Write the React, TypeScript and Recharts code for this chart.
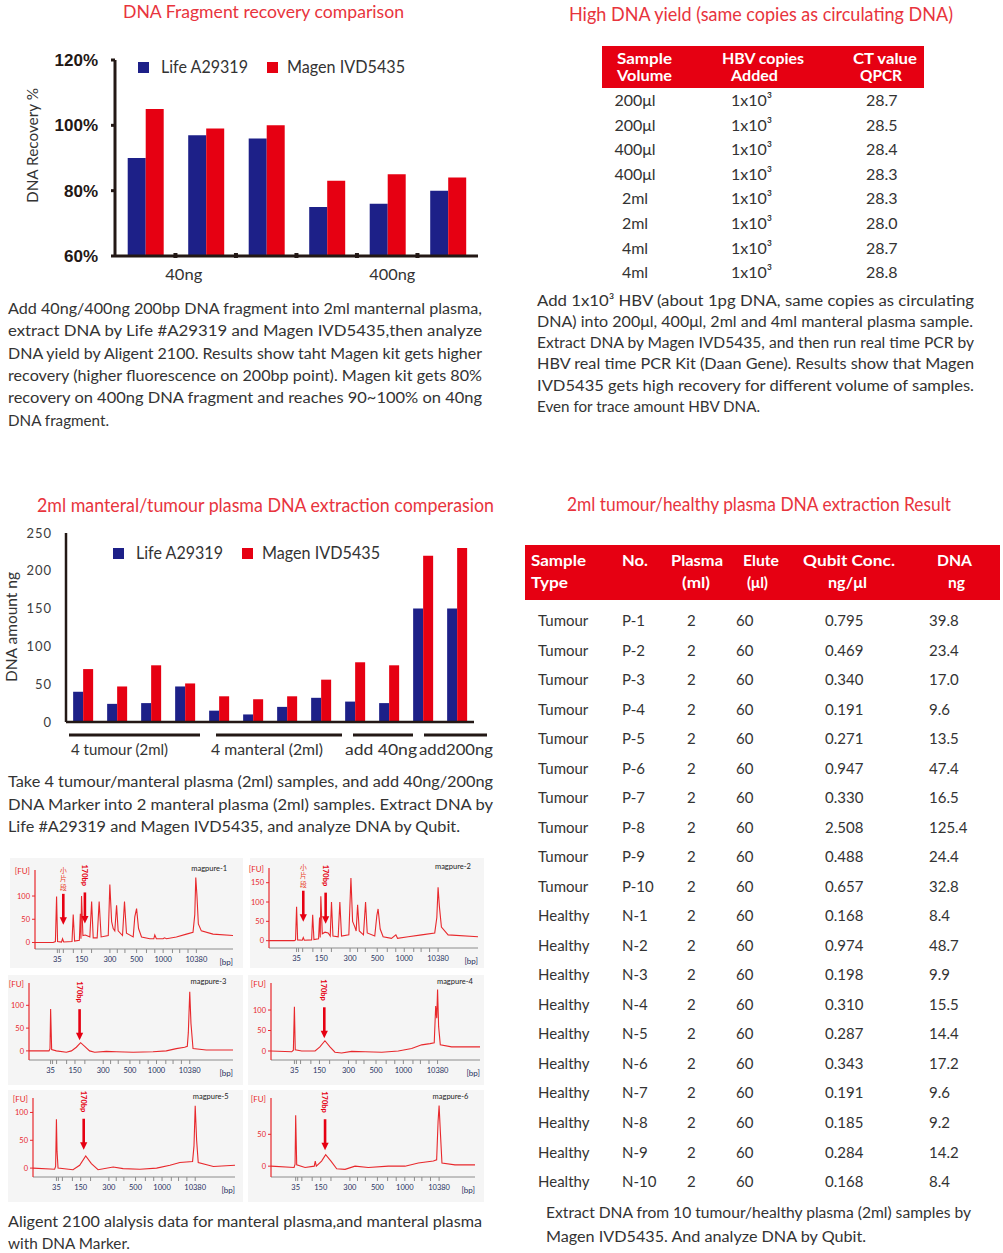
import React from "react";
import { BarChart, Bar, XAxis, YAxis, Legend, LineChart, Line, ReferenceDot } from "recharts";

const FONT = "Lato, 'Noto Sans', sans-serif";
const CJK = "'Noto Sans CJK SC', sans-serif";
const BLUE = "#1d2088";
const RED = "#e60012";
const TITLE = "#e8343d";
const INK = "#333333";
const AXIS = "#231815";
const TRACE = "#e8282c";

// DNA Fragment recovery comparison (%)
const recoveryGroups = ["40ng a", "40ng b", "40ng c", "400ng a", "400ng b", "400ng c"];
const recoveryLife = [90, 97, 96, 75, 76, 80];
const recoveryMagen = [105, 99, 100, 83, 85, 84];
const recoveryTicks = [60, 80, 100, 120];

// 2ml manteral/tumour plasma DNA (ng)
const plasmaSamples = ["T1", "T2", "T3", "T4", "M1", "M2", "M3", "M4", "40ng a", "40ng b", "200ng a", "200ng b"];
const plasmaLife = [40, 24, 25, 47, 15, 10, 20, 32, 27, 25, 150, 150];
const plasmaMagen = [70, 47, 75, 51, 34, 30, 34, 56, 79, 75, 220, 230];
const plasmaTicks = [0, 50, 100, 150, 200, 250];
const plasmaGroupLabels = ["4 tumour (2ml)", "4 manteral (2ml)", "add 40ng", "add200ng"];

const seriesNames = ["Life A29319", "Magen IVD5435"];

// HBV table
const hbvVolumes = ["200μl", "200μl", "400μl", "400μl", "2ml", "2ml", "4ml", "4ml"];
const hbvCopies = "1x10³";
const hbvCt = ["28.7", "28.5", "28.4", "28.3", "28.3", "28.0", "28.7", "28.8"];

// Qubit table
const qubitNo = ["P-1", "P-2", "P-3", "P-4", "P-5", "P-6", "P-7", "P-8", "P-9", "P-10",
  "N-1", "N-2", "N-3", "N-4", "N-5", "N-6", "N-7", "N-8", "N-9", "N-10"];
const qubitConc = ["0.795", "0.469", "0.340", "0.191", "0.271", "0.947", "0.330", "2.508", "0.488", "0.657",
  "0.168", "0.974", "0.198", "0.310", "0.287", "0.343", "0.191", "0.185", "0.284", "0.168"];
const qubitDna = ["39.8", "23.4", "17.0", "9.6", "13.5", "47.4", "16.5", "125.4", "24.4", "32.8",
  "8.4", "48.7", "9.9", "15.5", "14.4", "17.2", "9.6", "9.2", "14.2", "8.4"];

// paragraphs
const fragmentNote = [
  "Add 40ng/400ng 200bp DNA fragment into 2ml manternal plasma,",
  "extract DNA by Life #A29319 and Magen IVD5435,then analyze",
  "DNA yield by Aligent 2100. Results show taht Magen kit gets higher",
  "recovery (higher fluorescence on 200bp point). Magen kit gets 80%",
  "recovery on 400ng DNA fragment and reaches 90~100% on 40ng",
  "DNA fragment.",
];
const hbvNote = [
  "Add 1x10³ HBV (about 1pg DNA, same copies as circulating",
  "DNA) into 200μl, 400μl, 2ml and 4ml manteral plasma sample.",
  "Extract DNA by Magen IVD5435, and then run real time PCR by",
  "HBV real time PCR Kit (Daan Gene). Results show that Magen",
  "IVD5435 gets high recovery for different volume of samples.",
  "Even for trace amount HBV DNA.",
];
const plasmaNote = [
  "Take 4 tumour/manteral plasma (2ml) samples, and add 40ng/200ng",
  "DNA Marker into 2 manteral plasma (2ml) samples. Extract DNA by",
  "Life #A29319 and Magen IVD5435, and analyze DNA by Qubit.",
];
const traceNote = ["Aligent 2100 alalysis data for manteral plasma,and manteral plasma", "with DNA Marker."];
const qubitNote = ["Extract DNA from 10 tumour/healthy plasma (2ml) samples by", "Magen IVD5435. And analyze DNA by Qubit."];

// Bioanalyzer traces: [relative migration, FU]
type Pt = [number, number];
const trace1: Pt[] = [
  [0, 0], [9.2, 0], [10.3, 2], [10.9, 99], [11.4, 2], [13.4, 1], [13.9, 8], [14.5, 1], [18.7, 2], [19.3, 60],
  [20.0, 3], [22.4, 5], [22.9, 62], [23.2, 8], [23.5, 100], [24.2, 15], [25.4, 16], [26.6, 14], [27.7, 12],
  [28.6, 88], [29.4, 10], [31.4, 10], [32.4, 88], [33.4, 12], [37.0, 15], [37.8, 125], [38.7, 45], [39.5, 30],
  [40.3, 25], [41.2, 80], [42.0, 25], [44.2, 15], [45.2, 88], [46.2, 20], [49.6, 12], [50.4, 55], [51.3, 73],
  [52.3, 30], [53.8, 12], [58.0, 8], [60.0, 8], [60.5, 16], [61.3, 8], [64.7, 8], [65.4, 10], [66.4, 8],
  [71.4, 12], [76.5, 18], [79.8, 22], [80.7, 60], [81.2, 140], [81.8, 100], [82.5, 40], [84.0, 25], [89.9, 18], [100, 15],
];
const trace2: Pt[] = [
  [0, 0], [12.1, 0], [12.7, 2], [13.2, 88], [13.7, 2], [15.9, 1], [16.4, 8], [16.9, 1], [20.4, 2], [20.9, 67],
  [21.5, 3], [23.7, 5], [24.2, 60], [24.5, 8], [24.8, 115], [25.5, 18], [26.8, 22], [28.3, 20], [29.3, 12],
  [29.9, 100], [30.6, 12], [33.1, 10], [33.9, 100], [34.7, 12], [38.2, 15], [39.2, 162], [40.0, 50], [41.1, 35],
  [41.7, 25], [42.4, 93], [43.2, 25], [45.2, 15], [46.2, 100], [47.0, 20], [50.6, 12], [51.6, 65], [52.2, 82],
  [53.2, 30], [54.6, 10], [58.6, 6], [60.7, 15], [61.5, 6], [66.6, 10], [73.0, 15], [79.3, 20], [80.3, 60],
  [80.9, 138], [81.5, 90], [82.5, 35], [85.7, 15], [100, 10],
];
const trace3: Pt[] = [
  [0, 0], [9.8, 0], [10.3, 5], [10.6, 92], [11.1, 3], [13.4, 0], [18.3, -3], [20.8, 0], [23.2, 8], [25.3, 18],
  [27.3, 10], [29.7, 0], [32.2, -3], [37.9, -1], [42.8, -2], [51.0, -3], [60.8, -2], [67.3, 0], [72.2, 5],
  [76.3, 8], [77.6, 10], [78.1, 40], [78.8, 130], [79.4, 60], [80.4, 5], [86.9, 2], [100, 2],
];
const trace4: Pt[] = [
  [0, 0], [9.9, -2], [10.7, 2], [11.2, 108], [11.6, 3], [14.7, 0], [21.1, 0], [23.4, 10], [25.8, 25], [28.2, 10],
  [30.6, -3], [33.8, -5], [38.6, -1], [45.0, -2], [53.0, -3], [60.9, 0], [67.3, 6], [72.1, 15], [76.1, 18],
  [78.1, 20], [78.8, 110], [79.3, 80], [79.7, 150], [80.2, 60], [81.0, 15], [86.4, 10], [100, 10],
];
const trace5: Pt[] = [
  [0, 0], [10.7, -2], [11.2, 3], [11.6, 88], [11.9, 30], [12.4, 0], [19.8, -3], [23.1, 5], [26.1, 22], [28.9, 8],
  [32.2, -3], [39.7, 2], [44.6, -1], [52.9, -2], [61.2, 0], [67.8, 5], [72.7, 10], [79.0, 12], [79.7, 40],
  [80.3, 112], [81.0, 50], [81.8, 10], [89.3, 3], [100, 5],
];
const trace6: Pt[] = [
  [0, 0], [11.3, -2], [11.8, 3], [12.1, 80], [12.6, 2], [16.7, -2], [21.2, 0], [21.7, 8], [22.2, 0], [24.8, 8],
  [26.8, 18], [29.4, 8], [32.2, -4], [36.3, -5], [41.2, 0], [47.7, -2], [57.5, 0], [65.7, 0], [72.2, 5],
  [79.6, 8], [81.2, 10], [81.9, 70], [82.4, 95], [83.0, 55], [83.8, 5], [90.2, 2], [100, 2],
];

// ladder tick layout along the migration axis (fraction between 35bp and 10380bp marks)
const ladderFrac = [0, 0.014, 0.043, 0.115, 0.175, 0.246, 0.378, 0.431, 0.486, 0.57, 0.641, 0.701, 0.761, 0.828, 0.88, 0.94, 1];
const ladderLabels = ["35", "", "", "", "150", "", "300", "", "", "500", "", "", "1000", "", "", "", "10380"];

interface Panel {
  name: string;
  trace: Pt[];
  box: [number, number, number, number];
  plot: [number, number, number, number];
  y: [number, number];
  yTicks: number[];
  u35: number;
  u10380: number;
  arrows: { t: number; fu: number; kind: "small" | "bp" }[];
}

const panels: Panel[] = [
  { name: "magpure-1", trace: trace1, box: [10, 858, 233, 110], plot: [35, 870, 233, 949], y: [-14, 156], yTicks: [0, 50, 100], u35: 11.3, u10380: 81.5,
    arrows: [{ t: 14.3, fu: 38, kind: "small" }, { t: 25.2, fu: 41, kind: "bp" }] },
  { name: "magpure-2", trace: trace2, box: [250, 858, 234, 110], plot: [269, 868, 478, 948], y: [-19, 188], yTicks: [0, 50, 100, 150], u35: 13.2, u10380: 80.9,
    arrows: [{ t: 16.4, fu: 49, kind: "small" }, { t: 27.1, fu: 44, kind: "bp" }] },
  { name: "magpure-3", trace: trace3, box: [8, 975, 235, 110], plot: [29, 983, 233, 1060], y: [-20, 149], yTicks: [0, 50, 100], u35: 10.6, u10380: 78.8,
    arrows: [{ t: 24.8, fu: 23.5, kind: "bp" }] },
  { name: "magpure-4", trace: trace4, box: [248, 975, 236, 110], plot: [271, 983, 480, 1060], y: [-22, 166], yTicks: [0, 50, 100], u35: 11.2, u10380: 79.7,
    arrows: [{ t: 25.5, fu: 31, kind: "bp" }] },
  { name: "magpure-5", trace: trace5, box: [8, 1090, 235, 112], plot: [33, 1098, 235, 1177], y: [-16, 126], yTicks: [0, 50, 100], u35: 11.6, u10380: 80.3,
    arrows: [{ t: 25.1, fu: 33, kind: "bp" }] },
  { name: "magpure-6", trace: trace6, box: [248, 1090, 236, 112], plot: [271, 1098, 475, 1177], y: [-17, 107], yTicks: [0, 50], u35: 12.1, u10380: 82.4,
    arrows: [{ t: 26.5, fu: 25, kind: "bp" }] },
];

function Txt({ x, y, w, size = 15.5, fill = INK, weight = 400, anchor = "start", family = FONT, children }: any) {
  const fit = w ? { textLength: w, lengthAdjust: "spacingAndGlyphs" } : {};
  return (
    <text x={x} y={y} fontSize={size} fill={fill} fontWeight={weight} textAnchor={anchor} fontFamily={family} {...fit}>
      {children}
    </text>
  );
}

function SwatchLegend() {
  return (
    <svg width={320} height={30} style={{ overflow: "visible", display: "block" }}>
      <rect x={0} y={8} width={11} height={11} fill={BLUE} />
      <Txt x={23} y={19} w={87} size={16.5}>{seriesNames[0]}</Txt>
      <rect x={129} y={8} width={11} height={11} fill={RED} />
      <Txt x={149} y={19} w={118} size={16.5}>{seriesNames[1]}</Txt>
    </svg>
  );
}

function RecoveryTick(props: any) {
  const { x, y, index } = props;
  return (
    <g>
      {index < 5 && <rect x={x + 28.2} y={y - 3} width={4} height={5} fill={AXIS} />}
      {index === 1 && <Txt x={x - 22} y={y + 24} w={37} anchor="middle">40ng</Txt>}
      {index === 4 && <Txt x={x + 5} y={y + 24} w={46} anchor="middle">400ng</Txt>}
    </g>
  );
}

function RecoveryChart() {
  const data = recoveryGroups.map((g, i) => ({ g, life: recoveryLife[i], magen: recoveryMagen[i] }));
  return (
    <div style={{ position: "absolute", left: 0, top: 40 }}>
      <BarChart width={500} height={250} data={data} margin={{ top: 20, right: 22, left: 0, bottom: 4 }} barCategoryGap="21%" barGap={0}>
        <XAxis dataKey="g" height={30} interval={0} axisLine={{ stroke: AXIS, strokeWidth: 3 }} tickLine={false}
          tickSize={0} tickMargin={0} tick={<RecoveryTick />} />
        <YAxis width={115} domain={[60, 120]} allowDataOverflow ticks={recoveryTicks} interval={0}
          axisLine={{ stroke: AXIS, strokeWidth: 3 }} tickLine={{ stroke: AXIS, strokeWidth: 3 }} tickSize={4} tickMargin={13}
          tickFormatter={(v: number) => `${v}%`}
          tick={{ fill: AXIS, fontSize: 17, fontWeight: 700, fontFamily: "'Liberation Sans', Arial, sans-serif" }} />
        <Legend verticalAlign="middle" align="center" wrapperStyle={{ top: 14, left: 138, width: 320, height: 30 }} content={() => <SwatchLegend />} />
        <Bar dataKey="life" name={seriesNames[0]} fill={BLUE} isAnimationActive={false} />
        <Bar dataKey="magen" name={seriesNames[1]} fill={RED} isAnimationActive={false} />
      </BarChart>
    </div>
  );
}

function PlasmaChart() {
  const data = plasmaSamples.map((s, i) => ({ s, life: plasmaLife[i], magen: plasmaMagen[i] }));
  return (
    <div style={{ position: "absolute", left: 0, top: 520 }}>
      <BarChart width={500} height={222} data={data} margin={{ top: 13, right: 26, left: 0, bottom: 0 }} barCategoryGap="21%" barGap={0}>
        <XAxis dataKey="s" height={20} tick={false} tickLine={false} axisLine={{ stroke: AXIS, strokeWidth: 2.5 }} />
        <YAxis width={66} domain={[0, 250]} ticks={plasmaTicks} interval={0} tickLine={false} tickSize={6} tickMargin={8}
          axisLine={{ stroke: AXIS, strokeWidth: 2.5 }} tick={{ fill: "#3c3c3c", fontSize: 13, letterSpacing: 1 }} />
        <Legend verticalAlign="middle" align="center" wrapperStyle={{ top: 20, left: 113, width: 320, height: 30 }} content={() => <SwatchLegend />} />
        <Bar dataKey="life" name={seriesNames[0]} fill={BLUE} isAnimationActive={false} />
        <Bar dataKey="magen" name={seriesNames[1]} fill={RED} isAnimationActive={false} />
      </BarChart>
    </div>
  );
}

function Arrow({ cx, cy, kind }: { cx: number; cy: number; kind: "small" | "bp" }) {
  return (
    <g>
      <line x1={cx} y1={cy - 31} x2={cx} y2={cy - 6} stroke={RED} strokeWidth={2.6} />
      <polygon points={`${cx - 3.6},${cy - 7.5} ${cx + 3.6},${cy - 7.5} ${cx},${cy}`} fill={RED} />
      {kind === "bp" ? (
        <text transform={`translate(${cx - 2.8},${cy - 59}) rotate(90)`} fontSize={7.5} fontWeight={700} fill={RED} fontFamily={FONT}>
          170bp
        </text>
      ) : (
        ["小", "片", "段"].map((c, i) => (
          <text key={c} x={cx} y={cy - 52 + i * 8.4} textAnchor="middle" fontSize={6.8} fill="#e8401e" fontFamily={CJK}>
            {c}
          </text>
        ))
      )}
    </g>
  );
}

function Electro({ p }: { p: Panel }) {
  const [bx, by, bw, bh] = p.box;
  const [pl, pt, pr, pb] = p.plot;
  const data = p.trace.map(([t, fu]) => ({ t, fu }));
  const ticks = ladderFrac.map((f) => p.u35 + f * (p.u10380 - p.u35));
  const small = { position: "absolute" as const, fontSize: 8, lineHeight: "10px", whiteSpace: "nowrap" as const };
  return (
    <div style={{ position: "absolute", left: bx, top: by, width: bw, height: bh, background: "#f5f5f5" }}>
      <LineChart width={bw} height={bh} data={data} margin={{ top: pt - by, right: bx + bw - pr, bottom: 0, left: 0 }}>
        <XAxis dataKey="t" type="number" domain={[0, 100]} allowDataOverflow ticks={ticks} interval={0}
          tickFormatter={(_v: number, i: number) => ladderLabels[i] ?? ""} height={by + bh - pb}
          axisLine={{ stroke: "#8c8c8c" }} tickLine={{ stroke: "#8c8c8c" }} tickSize={4} tickMargin={4}
          tick={{ fill: "#26305e", fontSize: 7.5 }} />
        <YAxis type="number" domain={p.y} allowDataOverflow ticks={p.yTicks} interval={0} width={pl - bx}
          axisLine={{ stroke: TRACE, strokeWidth: 1.2 }} tickLine={{ stroke: TRACE }} tickSize={3} tickMargin={2}
          tick={{ fill: TRACE, fontSize: 7.5 }} />
        <Line dataKey="fu" type="linear" stroke={TRACE} strokeWidth={1.1} dot={false} isAnimationActive={false} />
        {p.arrows.map((a, i) => (
          <ReferenceDot key={i} x={a.t} y={a.fu} r={0} ifOverflow="visible"
            shape={(s: any) => <Arrow cx={s.cx} cy={s.cy} kind={a.kind} />} />
        ))}
      </LineChart>
      <div style={{ ...small, color: TRACE, right: bw - (pl - bx - 5), top: pt - by - 4 }}>[FU]</div>
      <div style={{ ...small, color: "#222", left: pl - bx + 0.88 * (pr - pl), top: pt - by - 6, transform: "translateX(-50%)", fontSize: 7.5 }}>{p.name}</div>
      <div style={{ ...small, color: "#26305e", right: bw - (pr - bx), top: pb - by + 8 }}>[bp]</div>
    </div>
  );
}

function Note({ lines, x, y, lh, widths }: { lines: string[]; x: number; y: number; lh: number; widths: number[] }) {
  return (
    <g>
      {lines.map((l, i) => (
        <Txt key={i} x={x} y={y + i * lh} w={widths[i]}>{l}</Txt>
      ))}
    </g>
  );
}

function Overlay() {
  const hbvRowY = (i: number) => 106 + i * 24.6;
  const qRowY = (i: number) => 626 + i * 29.53;
  return (
    <svg width={1003} height={1253} style={{ position: "absolute", left: 0, top: 0, pointerEvents: "none" }}>
      {/* titles */}
      <Txt x={123} y={18} w={281} size={16.5} fill={TITLE}>DNA Fragment recovery comparison</Txt>
      <Txt x={569} y={20.5} w={384} size={18.5} fill={TITLE}>High DNA yield (same copies as circulating DNA)</Txt>
      <Txt x={37} y={511.5} w={457} size={18.5} fill={TITLE}>2ml manteral/tumour plasma DNA  extraction comperasion</Txt>
      <Txt x={567} y={511} w={384} size={18.5} fill={TITLE}>2ml tumour/healthy plasma DNA extraction Result</Txt>

      {/* axis titles */}
      <g transform="translate(37.5,145.5) rotate(-90)">
        <Txt x={0} y={0} w={115} anchor="middle">DNA Recovery %</Txt>
      </g>
      <g transform="translate(17,627) rotate(-90)">
        <Txt x={0} y={0} w={110} anchor="middle">DNA amount ng</Txt>
      </g>

      {/* group brackets of the plasma chart */}
      {[[69, 200], [216, 342], [353, 413], [424, 487]].map(([a, b], i) => (
        <line key={i} x1={a} x2={b} y1={735} y2={735} stroke={AXIS} strokeWidth={3} />
      ))}
      <Txt x={71} y={755} w={97}>{plasmaGroupLabels[0]}</Txt>
      <Txt x={211} y={755} w={112}>{plasmaGroupLabels[1]}</Txt>
      <Txt x={345} y={755} w={72}>{plasmaGroupLabels[2]}</Txt>
      <Txt x={419} y={755} w={74}>{plasmaGroupLabels[3]}</Txt>

      {/* notes */}
      <Note lines={fragmentNote} x={8} y={314} lh={22.3} widths={[474, 474, 474, 474, 474, 101]} />
      <Note lines={hbvNote} x={537} y={305.7} lh={21.2} widths={[437, 436, 437, 437, 437, 223]} />
      <Note lines={plasmaNote} x={8} y={787} lh={22.5} widths={[485, 485, 452]} />
      <Note lines={traceNote} x={8} y={1227} lh={22} widths={[474, 122]} />
      <Note lines={qubitNote} x={546} y={1218} lh={24} widths={[425, 320]} />

      {/* HBV table */}
      <rect x={602} y={46} width={322} height={42} fill={RED} />
      <Txt x={617} y={64} w={55} size={14.5} weight={700} fill="#fff">Sample</Txt>
      <Txt x={617} y={81} w={55} size={14.5} weight={700} fill="#fff">Volume</Txt>
      <Txt x={722} y={64} w={82} size={14.5} weight={700} fill="#fff">HBV copies</Txt>
      <Txt x={731} y={81} w={47} size={14.5} weight={700} fill="#fff">Added</Txt>
      <Txt x={853} y={64} w={64} size={14.5} weight={700} fill="#fff">CT value</Txt>
      <Txt x={860} y={81} w={42} size={14.5} weight={700} fill="#fff">QPCR</Txt>
      {hbvVolumes.map((v, i) => (
        <g key={i}>
          <Txt x={635} y={hbvRowY(i)} size={16} anchor="middle">{v}</Txt>
          <Txt x={731} y={hbvRowY(i)} size={16}>{hbvCopies}</Txt>
          <Txt x={866} y={hbvRowY(i)} size={16}>{hbvCt[i]}</Txt>
        </g>
      ))}

      {/* Qubit table */}
      <rect x={525} y={545} width={475} height={55} fill={RED} />
      <Txt x={531} y={565.5} w={55} size={14.5} weight={700} fill="#fff">Sample</Txt>
      <Txt x={531} y={588} w={37} size={14.5} weight={700} fill="#fff">Type</Txt>
      <Txt x={622} y={565.5} w={26} size={14.5} weight={700} fill="#fff">No.</Txt>
      <Txt x={671} y={565.5} w={52} size={14.5} weight={700} fill="#fff">Plasma</Txt>
      <Txt x={682} y={588} w={28} size={14.5} weight={700} fill="#fff">(ml)</Txt>
      <Txt x={743} y={565.5} w={36} size={14.5} weight={700} fill="#fff">Elute</Txt>
      <Txt x={747} y={588} w={21} size={14.5} weight={700} fill="#fff">(μl)</Txt>
      <Txt x={803} y={565.5} w={92} size={14.5} weight={700} fill="#fff">Qubit Conc.</Txt>
      <Txt x={828} y={588} w={39} size={14.5} weight={700} fill="#fff">ng/μl</Txt>
      <Txt x={937} y={565.5} w={35} size={14.5} weight={700} fill="#fff">DNA</Txt>
      <Txt x={948} y={588} w={17} size={14.5} weight={700} fill="#fff">ng</Txt>
      {qubitNo.map((n, i) => (
        <g key={n}>
          <Txt x={538} y={qRowY(i)} size={15}>{i < 10 ? "Tumour" : "Healthy"}</Txt>
          <Txt x={622} y={qRowY(i)} size={15}>{n}</Txt>
          <Txt x={687} y={qRowY(i)} size={15}>2</Txt>
          <Txt x={736} y={qRowY(i)} size={15}>60</Txt>
          <Txt x={825} y={qRowY(i)} size={15}>{qubitConc[i]}</Txt>
          <Txt x={929} y={qRowY(i)} size={15}>{qubitDna[i]}</Txt>
        </g>
      ))}
    </svg>
  );
}

export default function App() {
  return (
    <div style={{ position: "relative", width: 1003, height: 1253, background: "#fff", fontFamily: FONT, overflow: "hidden" }}>
      <style>{`body{margin:0}`}</style>
      <RecoveryChart />
      <PlasmaChart />
      {panels.map((p) => (
        <Electro key={p.name} p={p} />
      ))}
      <Overlay />
    </div>
  );
}
